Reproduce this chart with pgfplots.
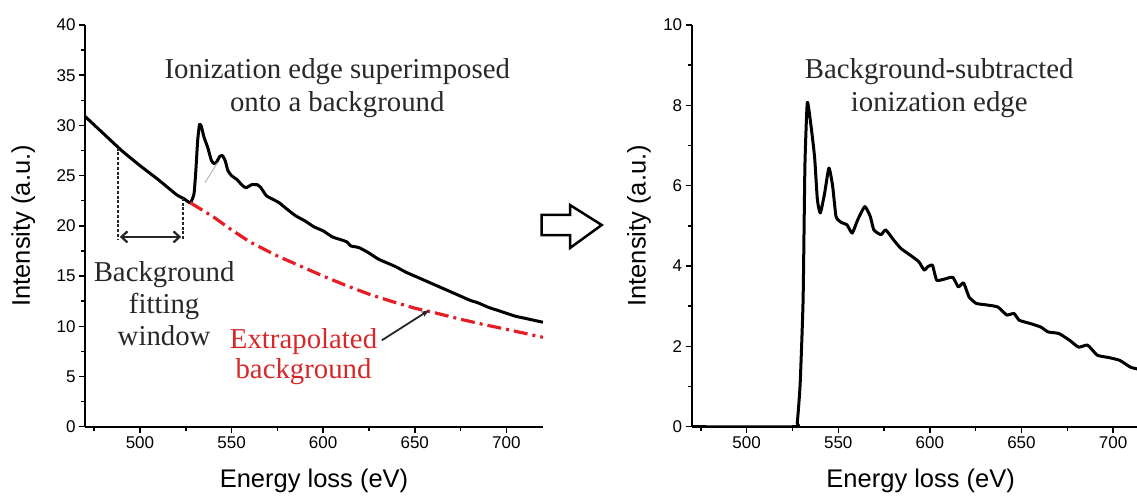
\documentclass[border=0pt]{standalone}
\usepackage{fontspec}
\setmainfont{Liberation Serif}
\setsansfont{Liberation Sans}
\usepackage{pgfplots}
\pgfplotsset{compat=1.18}
\usetikzlibrary{arrows.meta}
\definecolor{redline}{RGB}{228,30,36}
\definecolor{redtext}{RGB}{214,40,40}
\definecolor{anntext}{RGB}{40,40,40}

\pgfplotstableread{
E I
470 30.9
480 29.2
490 27.5
500 26.0
510 24.6
520 23.1
524 22.7
527.5 22.3
529.5 23.2
530.5 25.5
531.5 28.5
532.5 30.1
533.5 29.9
535 28.8
537 27.8
539 26.5
540.5 26.2
542 26.4
543.5 26.9
545 27.0
546.5 26.5
548 25.5
550 25.0
553 24.6
556 24.0
558 23.8
561 24.1
564 24.1
566 23.8
569 23.0
573 22.6
576 22.3
580 21.7
585 21.0
590 20.5
595 19.9
600 19.5
605 18.9
610 18.6
613 18.4
615 18.0
618 17.9
620 17.8
625 17.3
630 16.7
635 16.3
640 15.9
645 15.4
650 15.0
655 14.6
660 14.2
665 13.8
670 13.4
675 13.0
680 12.6
685 12.3
690 11.9
695 11.6
700 11.3
705 11.0
710 10.8
715 10.6
720 10.4
}\rawdata

\pgfplotstableread{
E I
527.5 22.3
540 20.9
550 19.6
560 18.4
575 17.0
590 15.8
600 15.0
612 14.1
625 13.2
637 12.5
650 11.8
662 11.3
675 10.7
687 10.2
700 9.7
710 9.3
720 8.9
}\bgdata

\pgfplotstableread{
E I
470 0
526 0
527.6 0.1
529.2 1.07
530.8 3.15
531.8 6.5
533.1 8.07
535.1 7.5
537.1 6.7
538.6 5.65
540.2 5.32
542.5 5.8
544.9 6.44
546.9 6.0
548.8 5.23
551.8 5.08
554.7 5.03
557.6 4.82
560.6 5.15
564.5 5.48
567.5 5.23
569.4 4.9
573.3 4.78
575.9 4.9
580.2 4.65
584.1 4.44
589 4.28
593.9 4.11
596.9 3.9
598.8 3.98
601.4 4.02
603.7 3.65
607.6 3.67
612.5 3.72
615.5 3.48
618.4 3.58
621.4 3.23
625.3 3.07
631.2 3.03
637.1 2.98
642 2.78
645.9 2.82
648.8 2.65
654.7 2.57
660.6 2.48
664.5 2.36
670.4 2.32
676.3 2.15
681.2 1.98
686.1 2.03
691.4 1.78
697.8 1.72
703.7 1.65
709.6 1.48
715.1 1.42
720 1.38
}\subdata

\pgfplotsset{
  panel/.style={
    scale only axis,
    width=458pt, height=401.7pt,
    xmin=470, xmax=720, ymin=0,
    axis x line*=bottom, axis y line*=left,
    axis line style={line width=2pt, -},
    xtick={500,550,...,700},
    minor xtick={475,525,...,725},
    tick align=outside,
    major tick length=6pt, minor tick length=4pt,
    every tick/.style={line width=1.5pt, black},
    ticklabel style={font=\fontsize{17}{19}\selectfont\sffamily},
    /pgf/number format/assume math mode=true,
    label style={font=\fontsize{25.5}{28}\selectfont\sffamily},
    xlabel={Energy loss (eV)},
    ylabel={Intensity (a.u.)},
    xlabel style={at={(axis description cs:0.5,-0.135)}, anchor=center},
  },
}

\begin{document}
\begin{tikzpicture}[x=1pt,y=1pt]
\path[use as bounding box] (0,0) rectangle (1137,496);

% left panel
\begin{axis}[panel, at={(85pt,69.3pt)}, anchor=south west,
  ymax=40, ytick={0,5,...,40}, minor ytick={2.5,7.5,...,37.5},
  ylabel style={at={(axis description cs:-0.135,0.5)}, anchor=center, rotate=0}]
\addplot[black, line width=3pt, line join=round, smooth, tension=0.3] table[x=E,y=I] {\rawdata};
\addplot[redline, line width=3.2pt, dash pattern=on 14pt off 5pt on 3pt off 5pt] table[x=E,y=I] {\bgdata};
\addplot[black!85, line width=2.3pt, dash pattern=on 3pt off 1.8pt] coordinates {(488,27.8) (488,18.6)};
\addplot[black!85, line width=2.3pt, dash pattern=on 3pt off 1.8pt] coordinates {(523.5,22.8) (523.5,18.6)};
\addplot[gray!60, line width=0.9pt] coordinates {(535.5,24.3) (542.4,26.3)};
\draw[black!85, line width=2.2pt, {Straight Barb[length=6pt,width=11pt]}-{Straight Barb[length=6pt,width=11pt]}] (axis cs:489,18.9) -- (axis cs:522.5,18.9);
\draw[black!85, line width=1.8pt, -{Stealth[length=8pt,width=6pt]}] (axis cs:632,8.6) -- (axis cs:657.8,11.6);
\node[anntext, align=center, font=\fontsize{28.8}{33}\selectfont] at (axis cs:607.7,33.7) {Ionization edge superimposed\\onto a background};
\node[anntext, align=center, font=\fontsize{28.8}{32}\selectfont] at (axis cs:513.2,12.3) {Background\\fitting\\window};
\node[redtext, align=center, font=\fontsize{28.8}{30}\selectfont] at (axis cs:589.3,7.0) {Extrapolated\\background};
\end{axis}

% right panel
\begin{axis}[panel, at={(691.7pt,69.3pt)}, anchor=south west,
  ymax=10, ytick={0,2,...,10}, minor ytick={1,3,...,9},
  ylabel style={at={(axis description cs:-0.115,0.5)}, anchor=center, rotate=0}]
\addplot[black, line width=3pt, line join=round, smooth, tension=0.3] table[x=E,y=I] {\subdata};
\node[anntext, align=center, font=\fontsize{28.8}{33}\selectfont] at (axis cs:605.1,8.43) {Background-subtracted\\ionization edge};
\end{axis}

% block arrow between panels
\draw[black, line width=2.5pt, line join=miter]
  (541.7,281) -- (570,281) -- (570,291) -- (601.7,271) -- (570,248) -- (570,261) -- (541.7,261) -- cycle;
\end{tikzpicture}
\end{document}
